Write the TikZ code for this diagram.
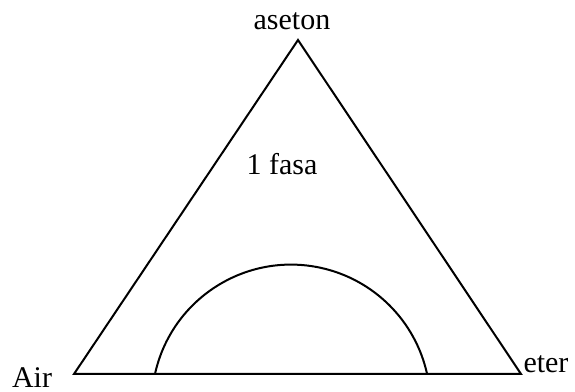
\documentclass[tikz,border=0pt]{standalone}
\usepackage{fontspec}
\setmainfont{Liberation Serif}
\tikzset{lbl/.style={anchor=base, inner sep=0pt, font=\fontsize{15}{18}\selectfont}}
\begin{document}
\begin{tikzpicture}[x=0.5pt, y=0.5pt, line width=1pt]
\useasboundingbox (0,0) rectangle (575,392);
\coordinate (air) at (74,18);
\coordinate (eter) at (521,18);
\coordinate (aseton) at (298,352);
\draw[line join=miter] (air) -- (eter) -- (aseton) -- cycle;

\node[lbl] (laseton) at (292,362) {aseton};
\node[lbl] (lfasa) at (282,217) {1 fasa};
\node[lbl] (lair) at (32,4) {Air};
\node[lbl] (leter) at (546,19) {eter};

% kurva binodal
\draw (155,18) arc[start angle=167.6, end angle=12.4, radius=69.65pt];
\end{tikzpicture}
\end{document}
